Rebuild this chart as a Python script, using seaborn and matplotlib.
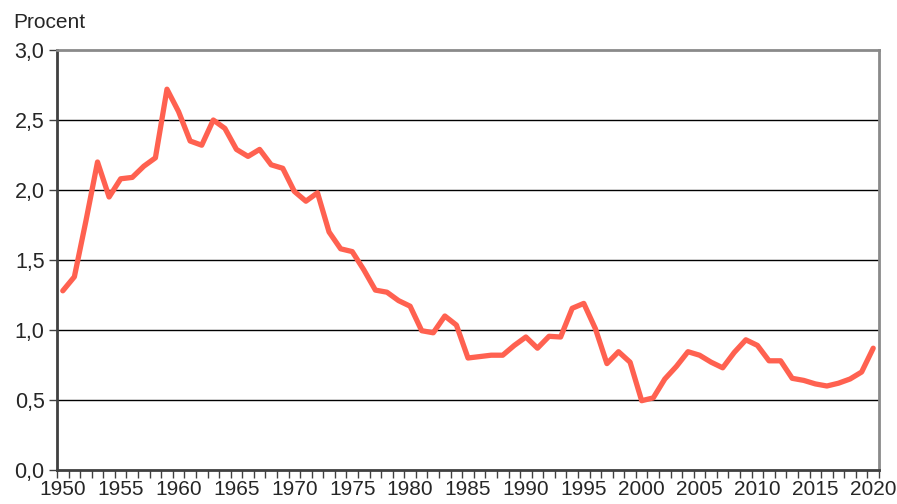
import numpy as np
import pandas as pd
import seaborn as sns
import matplotlib
matplotlib.use("Agg")
import matplotlib.pyplot as plt
from matplotlib.ticker import FuncFormatter, FixedLocator

# Data (per cent per year)
years = list(range(1950, 2021))
values = [
    1.28, 1.38, 1.78, 2.20, 1.95, 2.08, 2.09, 2.17, 2.23, 2.72,
    2.56, 2.35, 2.32, 2.50, 2.44, 2.29, 2.24, 2.29, 2.18, 2.155,
    1.99, 1.92, 1.98, 1.70, 1.58, 1.56, 1.43, 1.285, 1.27, 1.21,
    1.17, 0.995, 0.98, 1.10, 1.035, 0.80, 0.81, 0.82, 0.82, 0.89,
    0.95, 0.87, 0.955, 0.95, 1.155, 1.19, 1.01, 0.76, 0.845, 0.77,
    0.495, 0.515, 0.65, 0.74, 0.845, 0.82, 0.77, 0.73, 0.84, 0.93,
    0.89, 0.78, 0.78, 0.655, 0.64, 0.615, 0.60, 0.62, 0.65, 0.70,
    0.87,
]
y_ticks = [0.0, 0.5, 1.0, 1.5, 2.0, 2.5, 3.0]
x_labels = list(range(1950, 2021, 5))

df = pd.DataFrame({"År": years, "Procent": values})

sns.set_style("white")
plt.rcParams["font.family"] = ["Liberation Sans", "DejaVu Sans"]

fig = plt.figure(figsize=(8.97, 5.04), dpi=100)
ax = fig.add_axes([57 / 897, 1 - 470 / 504, (879 - 57) / 897, (470 - 50) / 504])

sns.lineplot(data=df, x="År", y="Procent", ax=ax, color="#FF6150",
             linewidth=3.8, solid_joinstyle="round", solid_capstyle="round", zorder=3)

ax.set_xlim(1949.5, 2020.5)
ax.set_ylim(0, 3.0)

# y axis
ax.set_yticks(y_ticks)
ax.yaxis.set_major_formatter(FuncFormatter(lambda v, p: f"{v:.1f}".replace(".", ",")))
ax.tick_params(axis="y", direction="out", length=6, width=1, color="#404040",
               labelsize=15.5, pad=3, left=True)
for yv in y_ticks[1:-1]:
    ax.axhline(yv, color="black", linewidth=1, zorder=1)

# x axis: labels centred on years, tick marks between years
ax.xaxis.set_major_locator(FixedLocator(x_labels))
ax.xaxis.set_minor_locator(FixedLocator([y - 0.5 for y in range(1950, 2022)]))
ax.tick_params(axis="x", which="major", length=0, labelsize=15, pad=7)
ax.tick_params(axis="x", which="minor", direction="out", length=6, width=1,
               color="#404040", bottom=True)

ax.set_xlabel("")
ax.set_ylabel("")

for side in ["left", "bottom"]:
    ax.spines[side].set_color("#404040")
    ax.spines[side].set_linewidth(2)
for side in ["top", "right"]:
    ax.spines[side].set_color("#8a8a8a")
    ax.spines[side].set_linewidth(2)

fig.text(13 / 897, 1 - 28 / 504, "Procent", fontsize=15, va="baseline", ha="left")

fig.savefig("out.png", dpi=100)
